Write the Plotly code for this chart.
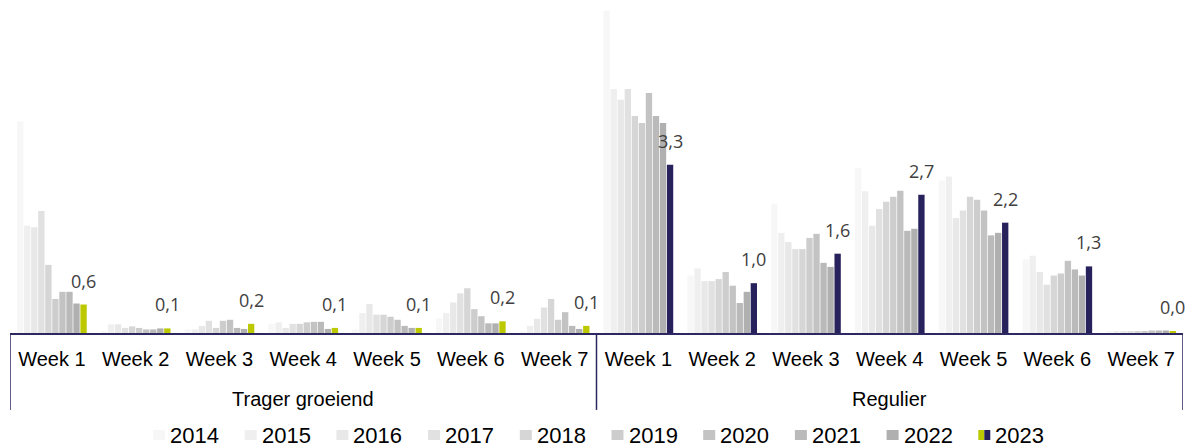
import plotly.graph_objects as go

# categories: 7 weeks in two groups
weeks = ["Week 1", "Week 2", "Week 3", "Week 4", "Week 5", "Week 6", "Week 7"]
groups = ["Trager groeiend", "Regulier"]
years = ["2014", "2015", "2016", "2017", "2018", "2019", "2020", "2021", "2022", "2023"]

# values per year: Trager groeiend week 1-7, then Regulier week 1-7
v2014 = [4.16, 0.02, 0.07, 0.18, 0.07, 0.29, 0.02, 6.34, 1.13, 2.54, 3.25, 3.00, 1.45, 0.04]
v2015 = [2.11, 0.17, 0.07, 0.21, 0.39, 0.39, 0.14, 4.80, 1.27, 1.97, 2.79, 3.08, 1.52, 0.04]
v2016 = [2.08, 0.17, 0.14, 0.10, 0.57, 0.60, 0.28, 4.59, 1.02, 1.79, 2.11, 2.26, 1.20, 0.04]
v2017 = [2.40, 0.10, 0.24, 0.18, 0.36, 0.78, 0.50, 4.80, 1.02, 1.65, 2.44, 2.41, 0.95, 0.04]
v2018 = [1.34, 0.13, 0.10, 0.18, 0.36, 0.88, 0.67, 4.27, 1.06, 1.65, 2.58, 2.68, 1.13, 0.04]
v2019 = [0.67, 0.10, 0.24, 0.21, 0.32, 0.47, 0.26, 4.13, 1.20, 1.87, 2.68, 2.62, 1.17, 0.04]
v2020 = [0.81, 0.07, 0.26, 0.22, 0.26, 0.33, 0.41, 4.72, 0.93, 1.95, 2.80, 2.41, 1.42, 0.05]
v2021 = [0.81, 0.07, 0.10, 0.22, 0.14, 0.19, 0.14, 4.27, 0.59, 1.38, 2.01, 1.92, 1.25, 0.05]
v2022 = [0.58, 0.09, 0.08, 0.08, 0.10, 0.19, 0.08, 4.13, 0.81, 1.30, 2.05, 1.97, 1.13, 0.05]
v2023 = [0.56, 0.09, 0.18, 0.10, 0.10, 0.23, 0.14, 3.31, 0.98, 1.56, 2.72, 2.17, 1.31, 0.04]
values = [v2014, v2015, v2016, v2017, v2018, v2019, v2020, v2021, v2022, v2023]

greys = ["#f7f7f7", "#efefef", "#e8e8e8", "#e1e1e1", "#d6d6d6",
         "#cdcdcd", "#c3c3c3", "#bababa", "#b0b0b0"]
yellow = "#bcc800"
navy = "#28225c"
# 2023: yellow for Trager groeiend, navy for Regulier (last point stays yellow)
c2023 = [yellow] * 7 + [navy] * 6 + [yellow]

x = list(range(14))
ticktext = weeks + weeks
bargap = 0.16

fig = go.Figure()
for i, (yr, vals) in enumerate(zip(years, values)):
    fig.add_trace(go.Bar(
        x=x, y=vals, name=yr,
        marker=dict(color=c2023 if yr == "2023" else greys[i], line=dict(width=0)),
        showlegend=False,
    ))

# data labels above the 2023 bars
slot_w = (1 - bargap) / len(years)
offset = -(1 - bargap) / 2 + slot_w * (len(years) - 0.5)
for xi, v in zip(x, v2023):
    fig.add_annotation(
        x=xi + offset, y=v, xref="x", yref="y",
        text=f"{v:.1f}".replace(".", ","), showarrow=False,
        yanchor="bottom", yshift=10,
        font=dict(family="Open Sans", size=18, color="#404040"),
    )

# multi-level axis box
line_col = "#2b2862"
for xb in [-0.5, 6.5, 13.5]:
    fig.add_shape(type="line", xref="x", yref="paper", x0=xb, x1=xb, y0=0, y1=-0.231,
                  line=dict(color=line_col, width=1.5))
for gi, g in enumerate(groups):
    fig.add_annotation(x=3 + 7 * gi, y=-0.198, xref="x", yref="paper", text=g,
                       showarrow=False, yanchor="middle",
                       font=dict(family="Liberation Sans", size=20, color="#000000"))

# legend drawn by hand (2023 has a two-colour marker)
W, L, H, B = 1173, 10, 333, 333
def px(v):
    return (v - L) / W
def py(v):
    return (B - v) / H
for i, yr in enumerate(years):
    x0 = 153 + i * 91.7
    if yr == "2023":
        fig.add_shape(type="rect", xref="paper", yref="paper", x0=px(x0), x1=px(x0 + 6),
                      y0=py(440), y1=py(430), line=dict(width=0), fillcolor=yellow)
        fig.add_shape(type="rect", xref="paper", yref="paper", x0=px(x0 + 6), x1=px(x0 + 12),
                      y0=py(440), y1=py(430), line=dict(width=0), fillcolor=navy)
    else:
        fig.add_shape(type="rect", xref="paper", yref="paper", x0=px(x0), x1=px(x0 + 12),
                      y0=py(440), y1=py(430), line=dict(width=0), fillcolor=greys[i])
    fig.add_annotation(x=px(x0 + 15), y=py(435), xref="paper", yref="paper", text=yr,
                       showarrow=False, xanchor="left", yanchor="middle",
                       font=dict(family="Liberation Sans", size=22, color="#000000"))

fig.update_layout(
    width=1199, height=448,
    margin=dict(l=10, r=16, t=0, b=115),
    paper_bgcolor="white", plot_bgcolor="white",
    barmode="group", bargap=bargap, bargroupgap=0.1,
    showlegend=False,
)
fig.update_xaxes(
    range=[-0.5, 13.5], tickvals=x, ticktext=ticktext, ticks="",
    ticklabelstandoff=7,
    tickfont=dict(family="Liberation Sans", size=20, color="#000000"),
    showline=True, linecolor=line_col, linewidth=1.5, showgrid=False, zeroline=False,
)
fig.update_yaxes(range=[0, 6.55], visible=False)

# drop the default page margin so the figure sits at the top-left corner
fig.write_html("out.html", config={"displayModeBar": False},
               post_script="document.body.style.margin='0';")
